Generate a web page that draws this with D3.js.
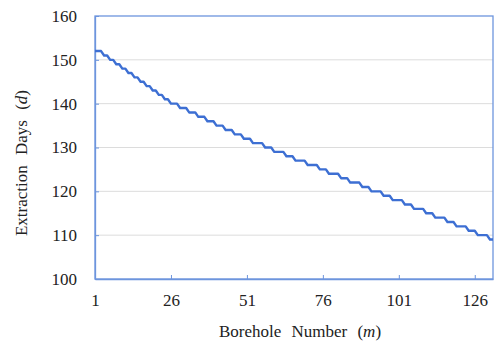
<!DOCTYPE html>
<html>
<head>
<meta charset="utf-8">
<script src="https://cdn.jsdelivr.net/npm/d3@7"></script>
<style>
  body { margin: 0; background: #fff; }
  svg text { font-family: "Liberation Serif", "Tinos", "DejaVu Serif", serif !important; fill: #222; }
</style>
</head>
<body>
<div id="chart"></div>
<script>
// DATA: extraction days held for a run of boreholes (value, run length)
const dayValues = [152, 151, 150, 149, 148, 147, 146, 145, 144, 143, 142, 141,
  140, 139, 138, 137, 136, 135, 134, 133,
  132, 131, 130, 129, 128, 127, 126,
  125, 124, 123, 122, 121, 120, 119,
  118, 117, 116, 115, 114, 113, 112,
  111, 110, 109];
const runLengths = [3, 2, 2, 2, 2, 2, 2, 2, 2, 2, 2, 2,
  3, 3, 3, 3, 3, 3, 3, 3,
  3, 4, 3, 4, 3, 4, 4,
  3, 4, 3, 4, 3, 4, 3,
  4, 3, 4, 3, 4, 3, 4,
  3, 4, 2];
const xTicks = [1, 26, 51, 76, 101, 126];
const yTicks = [100, 110, 120, 130, 140, 150, 160];

// expand runs into one point per borehole
const points = [];
dayValues.forEach((v, i) => {
  for (let k = 0; k < runLengths[i]; k++) points.push({ n: points.length + 1, days: v });
});

const width = 496, height = 351;
const margin = { left: 95, right: 3, top: 16, bottom: 72 };

const svg = d3.select("#chart").append("svg")
  .attr("width", width).attr("height", height);

const x = d3.scaleLinear().domain([1, points.length]).range([margin.left, width - margin.right]);
const y = d3.scaleLinear().domain([100, 160]).range([height - margin.bottom, margin.top]);

// GRID
svg.append("g").selectAll("line")
  .data(yTicks.slice(1, -1))
  .join("line")
  .attr("x1", margin.left).attr("x2", width - margin.right)
  .attr("y1", d => y(d)).attr("y2", d => y(d))
  .attr("stroke", "#dcdcdc").attr("stroke-width", 1);

// FRAME
svg.append("rect")
  .attr("x", margin.left).attr("y", margin.top)
  .attr("width", width - margin.right - margin.left)
  .attr("height", height - margin.bottom - margin.top)
  .attr("fill", "none").attr("stroke", "#6d95dd").attr("stroke-width", 1.3);

// AXES
const xAxis = d3.axisBottom(x).tickValues(xTicks).tickSizeInner(-4).tickSizeOuter(0).tickPadding(15);
const yAxis = d3.axisLeft(y).tickValues(yTicks).tickSizeInner(-4).tickSizeOuter(0).tickPadding(18);

const gx = svg.append("g").attr("transform", `translate(0,${height - margin.bottom})`).call(xAxis);
const gy = svg.append("g").attr("transform", `translate(${margin.left},0)`).call(yAxis);
[gx, gy].forEach(g => {
  g.select(".domain").attr("stroke", "#6d95dd").attr("stroke-width", 1.3);
  g.selectAll(".tick line").attr("stroke", "#6d95dd");
  g.selectAll(".tick text").attr("font-size", 17).attr("fill", "#222");
});

// LINE
svg.append("path")
  .datum(points)
  .attr("fill", "none")
  .attr("stroke", "#3d6fd3")
  .attr("stroke-width", 2.4)
  .attr("stroke-linejoin", "round")
  .attr("d", d3.line().x(d => x(d.n)).y(d => y(d.days)));

// AXIS TITLES
const xt = svg.append("text")
  .attr("x", 300).attr("y", 337)
  .attr("text-anchor", "middle").attr("font-size", 17)
  .attr("word-spacing", 6);
xt.append("tspan").text("Borehole Number (");
xt.append("tspan").attr("font-style", "italic").text("m");
xt.append("tspan").text(")");

const yt = svg.append("text")
  .attr("transform", `translate(27,163) rotate(-90)`)
  .attr("text-anchor", "middle").attr("font-size", 17)
  .attr("word-spacing", 6);
yt.append("tspan").text("Extraction Days (");
yt.append("tspan").attr("font-style", "italic").text("d");
yt.append("tspan").text(")");
</script>
</body>
</html>
